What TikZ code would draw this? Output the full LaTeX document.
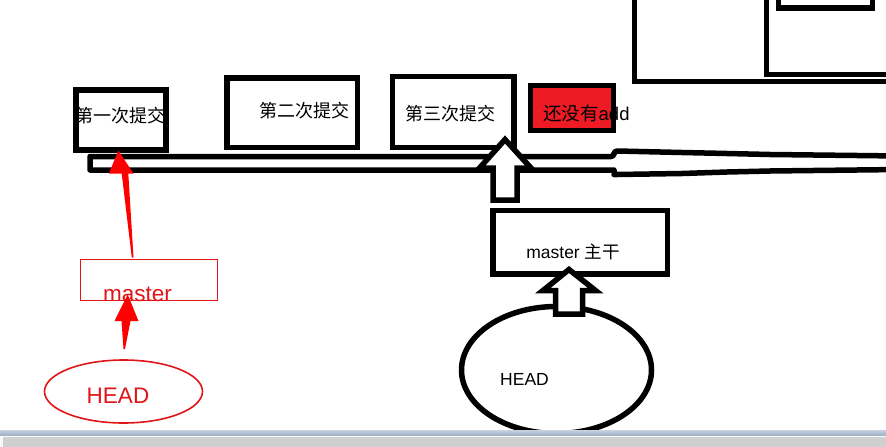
\documentclass[tikz,border=0pt]{standalone}
\usepackage{fontspec}
\usetikzlibrary{shapes.geometric}
\setmainfont{Liberation Sans}
\newfontfamily\cjk{Noto Sans CJK SC}
\definecolor{paintred}{RGB}{237,28,36}
\definecolor{pred}{RGB}{255,0,0}
\definecolor{tred}{RGB}{225,20,24}
\definecolor{barA}{RGB}{200,211,224}
\definecolor{barB}{RGB}{152,170,192}
\definecolor{barG}{RGB}{207,207,207}
\begin{document}
\begin{tikzpicture}[x=1pt,y=-1pt,
  blackbox/.style={draw=black, line width=5.5pt, inner sep=0pt, outer sep=0pt, fill=white},
  thick5/.style={draw=black, line width=5.5pt, line join=miter},
  cjktext/.style={inner sep=0pt, font=\cjk\fontsize{18}{18}\selectfont},
  latintext/.style={inner sep=0pt, anchor=base},
  redarrow/.style={fill=pred, draw=none}]
\useasboundingbox (0,0) rectangle (886,447);
\clip (0,0) rectangle (886,447);
% top-right boxes (partly outside the picture)
\draw[thick5] (634.5,-20) -- (634.5,81.5) -- (900,81.5);
\draw[thick5] (766.5,-20) -- (766.5,74.5) -- (900,74.5);
\draw[thick5] (778.5,-20) -- (778.5,8) -- (872.5,8) -- (872.5,-20);
% branch bar
\draw[thick5, line join=round]
  (900,156) -- (857,155.5) -- (770,154.5) -- (727,153.5) -- (682,152.5) -- (617,151)
  [rounded corners=3pt] -- (614,151) -- (614,156.5) [sharp corners] -- (90,156.5) -- (90,170)
  -- (614,170) [rounded corners=3pt] -- (614,174.5) -- (617,174.5) [sharp corners]
  -- (682,173.5) -- (727,172) -- (770,171) -- (857,170) -- (900,169.5);
% commit boxes
\node[blackbox, line width=6pt, minimum width=89.7pt, minimum height=60.3pt] (b1) at (121.2,119.9) {};
\node[blackbox, minimum width=130.5pt, minimum height=69.5pt] (b2) at (292.2,112.8) {};
\node[blackbox, minimum width=121.5pt, minimum height=71pt] (b3) at (453.2,112) {};
\node[blackbox, fill=paintred, line width=5pt, minimum width=83pt, minimum height=45pt] (b4) at (572,107.5) {};
\node[cjktext] (t1) at (120,115.5) {第一次提交};
\node[cjktext] (t2) at (304,111) {第二次提交};
\node[cjktext] (t3) at (450,114) {第三次提交};
\node[inner sep=0pt, anchor=base west, font=\fontsize{18.5}{18}\selectfont] (t4) at (543,120) {{\cjk 还没有}add};
% master branch box
\node[blackbox, minimum width=174.5pt, minimum height=63.5pt] (mb) at (580.2,242.2) {};
\node[inner sep=0pt, anchor=base, font=\fontsize{17.5}{18}\selectfont] (mt) at (573,258.5) {master {\cjk 主干}};
% hollow arrow master -> third commit
\draw[thick5, fill=white] (505,139.5) -- (531,168) -- (517,168) -- (517,200) -- (493,200)
  -- (493,168) -- (479.5,168) -- cycle;
% HEAD ellipse (black)
\node[draw=black, line width=5.5pt, ellipse, minimum width=190pt, minimum height=127pt, inner sep=0pt] (hd) at (556.5,370) {};
\node[latintext, font=\fontsize{17.5}{18}\selectfont] (ht) at (524.5,385.5) {HEAD};
% hollow arrow HEAD -> master
\draw[thick5, fill=white] (569,269.5) -- (595.5,290.5) -- (582.5,290.5) -- (582.5,314) -- (555.5,314)
  -- (555.5,290.5) -- (543,290.5) -- cycle;
% red master box and HEAD
\node[draw=tred, line width=1.6pt, minimum width=137pt, minimum height=41pt, inner sep=0pt] (rm) at (149,280) {};
\node[latintext, text=tred, font=\fontsize{22.5}{24}\selectfont] (rmt) at (137.5,301) {master};
\node[draw=tred, line width=1.6pt, ellipse, minimum width=158pt, minimum height=63pt, inner sep=0pt] (rh) at (123.5,391.5) {};
\node[latintext, text=tred, font=\fontsize{22.5}{24}\selectfont] (rht) at (118,403) {HEAD};
% red arrows
\fill[redarrow] (118.3,150.5) -- (133.5,173.5) -- (128.3,173.5) -- (133.5,257.5) -- (131.8,257.5)
  -- (121.7,173.5) -- (109,173.5) -- cycle;
\fill[redarrow] (127.7,294.5) -- (138.5,321) -- (130.5,321) -- (125,349) -- (123.5,349)
  -- (121.5,321) -- (114.5,321) -- cycle;
% bottom status bar
\shade[top color=barA, bottom color=barB] (0,430) rectangle (886,436);
\fill[white!90!barA] (0,436) rectangle (886,437);
\fill[barG] (3,437) rectangle (886,447);
\fill[white!85!barG] (0,437) rectangle (3,447);
\end{tikzpicture}
\end{document}
